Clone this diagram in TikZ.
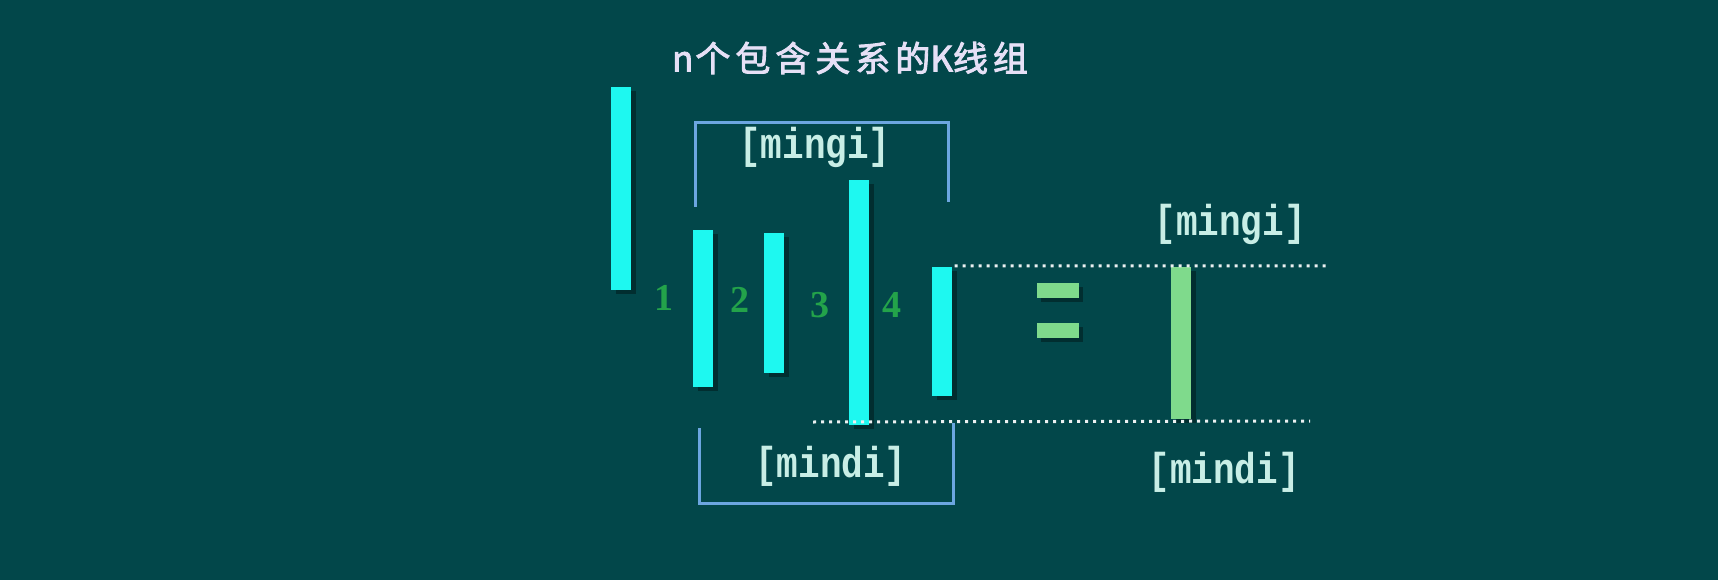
\documentclass[tikz,border=0pt]{standalone}
\usepackage{fontspec}
\setmainfont{Liberation Serif}
\newfontfamily\cjkfont[FakeBold=2.5]{Noto Sans CJK SC}
\newfontfamily\labfont{Liberation Mono}
\usetikzlibrary{shadows}
\definecolor{bgcol}{HTML}{02474A}
\definecolor{barcyan}{HTML}{1EF8F0}
\definecolor{numgreen}{HTML}{23A34A}
\definecolor{labcol}{HTML}{C8EEE6}
\definecolor{titlecol}{HTML}{E6E0F6}
\definecolor{brackcol}{HTML}{6CA6E0}
\definecolor{resgreen}{HTML}{7FDA8C}
\newcommand{\ks}{\kern5pt}
\tikzset{
  kbar/.style={rectangle, inner sep=0pt, minimum width=20pt, fill=barcyan,
    drop shadow={shadow xshift=5pt, shadow yshift=-4pt, opacity=0.35, fill=black}},
  resbar/.style={kbar, fill=resgreen},
  numlab/.style={text=numgreen, font=\bfseries\fontsize{38}{38}\selectfont, inner sep=0pt},
  boxlab/.style={text=labcol, font=\labfont\bfseries\fontsize{36}{36}\selectfont, inner sep=0pt},
  brack/.style={draw=brackcol, line width=3pt},
  dotline/.style={draw=white!92!bgcol, line width=3pt, dash pattern=on 3pt off 5pt},
  eqbar/.style={fill=resgreen,
    drop shadow={shadow xshift=4pt, shadow yshift=-4pt, opacity=0.35, fill=black}}
}
\begin{document}
\begin{tikzpicture}[x=1pt,y=-1pt]
\fill[bgcol] (0,0) rectangle (1718,580);
\useasboundingbox (0,0) rectangle (1718,580);

% title
\node[text=titlecol, font=\cjkfont\fontsize{35}{35}\selectfont, inner sep=0pt] (title) at (850,58)
  {n\kern2pt 个\ks 包\ks 含\ks 关\ks 系\ks 的K线\ks 组};

% brackets
\draw[brack] (695,207) -- (695,123) -- (948,123) -- (948,202);
\draw[brack] (699,428) -- (699,503) -- (953,503) -- (953,423);

% bars
\node[kbar, minimum height=203pt] (b0) at (621,188.5) {};
\node[kbar, minimum height=157pt] (b1) at (703,308.5) {};
\node[kbar, minimum height=140pt] (b2) at (774,303) {};
\node[kbar, minimum height=245pt] (b3) at (859,302.5) {};
\node[kbar, minimum height=129pt] (b4) at (941.5,331.5) {};
\node[resbar, minimum height=152pt] (r) at (1181,343) {};

% dotted lines
\coordinate (upend) at (1328,266);
\coordinate (lostart) at (813,422);
\coordinate (loend) at (1310,421);
\draw[dotline] (b4.north east) ++(3,-1) -- (upend);
\draw[dotline] (lostart) -- (loend);

% numbers
\node[numlab] (n1) at (664,298) {1};
\node[numlab] (n2) at (740,300) {2};
\node[numlab] (n3) at (820,305) {3};
\node[numlab] (n4) at (892,305) {4};

% labels
\node[boxlab] (l1) at (815,147) {\scalebox{1}[1.2]{[mingi]}};
\node[boxlab] (l2) at (831,466) {\scalebox{1}[1.2]{[mindi]}};
\node[boxlab] (l3) at (1230,224) {\scalebox{1}[1.2]{[mingi]}};
\node[boxlab] (l4) at (1224,472) {\scalebox{1}[1.2]{[mindi]}};

% equal sign
\fill[eqbar] (1037,283) rectangle (1079,298);
\fill[eqbar] (1037,323) rectangle (1079,338);
\end{tikzpicture}
\end{document}
